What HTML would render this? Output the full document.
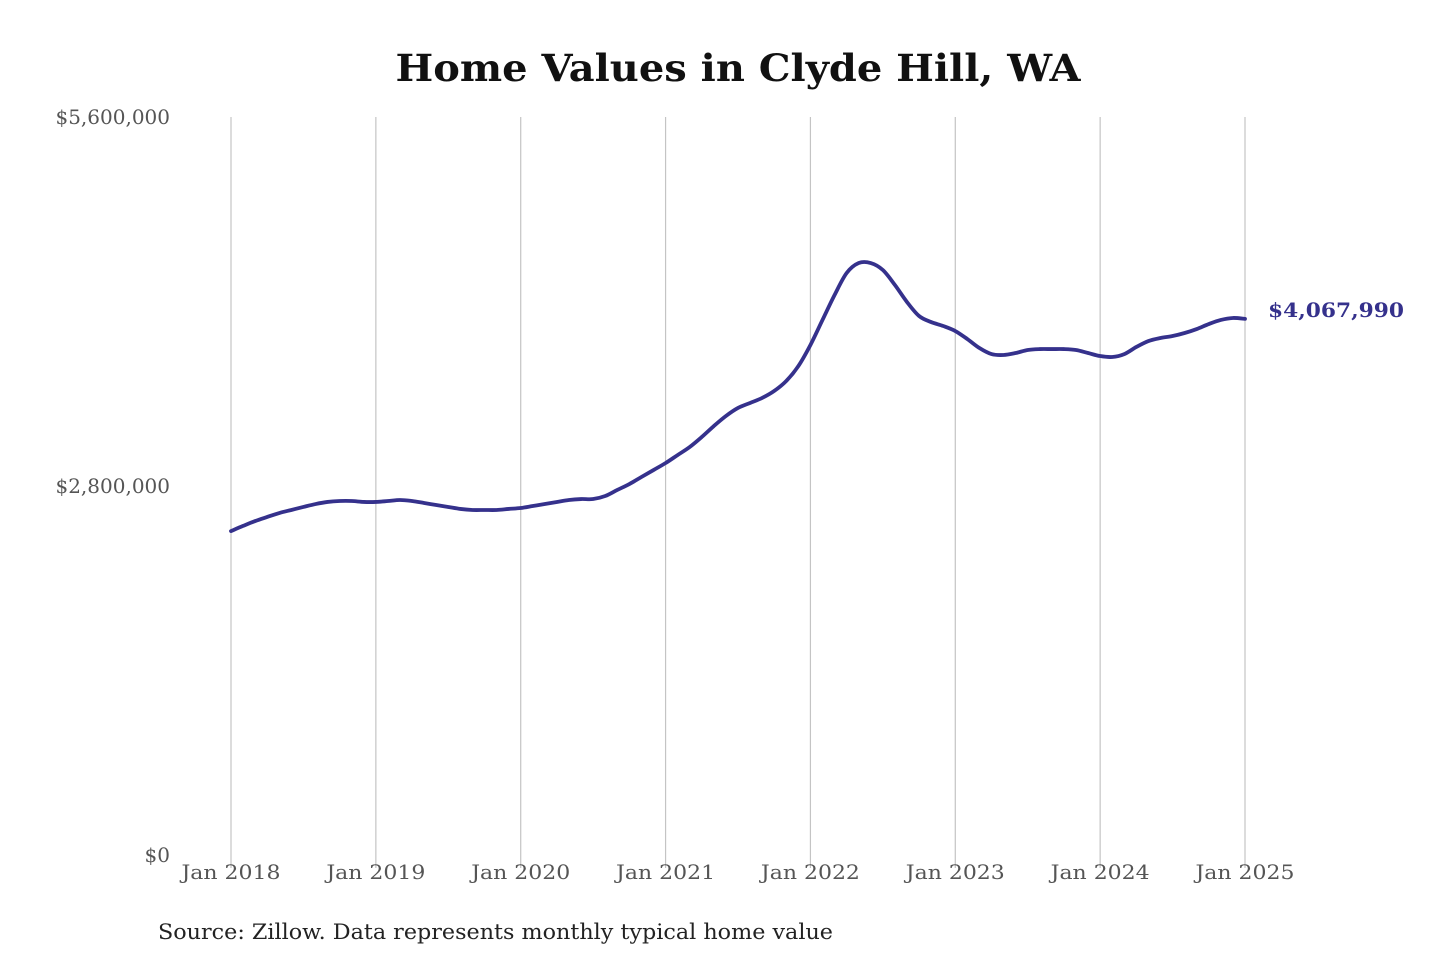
<!DOCTYPE html>
<html><head><meta charset="utf-8">
<style>
html,body{margin:0;padding:0;background:#fff;}
svg{display:block;font-family:"DejaVu Serif","Liberation Serif",serif;}
</style></head>
<body>
<svg id="chart" width="1440" height="960" viewBox="0 0 1440 960">
<text x="738" y="81" text-anchor="middle" font-size="37" font-weight="bold" fill="#111" textLength="685" lengthAdjust="spacingAndGlyphs">Home Values in Clyde Hill, WA</text>
<g id="grid"></g>
<g id="yaxis"></g>
<g id="xaxis"></g>
<g id="series"></g>
<text x="158" y="939" font-size="21" fill="#222" textLength="675" lengthAdjust="spacingAndGlyphs">Source: Zillow. Data represents monthly typical home value</text>
</svg>
<script>
const yTicks = [0, 2800000, 5600000];
const yTickLabels = ["$0", "$2,800,000", "$5,600,000"];
const xTickYears = [2018, 2019, 2020, 2021, 2022, 2023, 2024, 2025];
const xTickLabels = ["Jan 2018","Jan 2019","Jan 2020","Jan 2021","Jan 2022","Jan 2023","Jan 2024","Jan 2025"];
const startYear = 2018;
// monthly values Jan 2018 .. Jan 2025 (millions)
const values = [2.458,2.497,2.534,2.565,2.595,2.618,2.641,2.663,2.679,2.686,2.686,2.679,
2.679,2.686,2.694,2.686,2.671,2.656,2.641,2.626,2.618,2.618,2.618,2.626,
2.633,2.648,2.663,2.679,2.694,2.701,2.701,2.724,2.770,2.815,2.868,2.921,
2.974,3.035,3.096,3.172,3.255,3.331,3.392,3.430,3.468,3.521,3.597,3.710,
3.870,4.060,4.249,4.416,4.492,4.492,4.439,4.325,4.196,4.090,4.044,4.014,
3.976,3.915,3.847,3.801,3.794,3.809,3.832,3.839,3.839,3.839,3.832,3.809,
3.786,3.779,3.801,3.855,3.900,3.923,3.938,3.961,3.991,4.029,4.060,4.075,
4.06799];
const lastLabel = "$4,067,990";

const NS="http://www.w3.org/2000/svg";
const x0=231, x1=1245, y0=855, y1=117;
const xScale = m => x0 + (x1-x0)*m/84;
const yScale = v => y0 - (y0-y1)*v/5600000;
function mk(tag, attrs, parent){const e=document.createElementNS(NS,tag);for(const k in attrs)e.setAttribute(k,attrs[k]);parent.appendChild(e);return e;}

const grid=document.getElementById('grid'), ya=document.getElementById('yaxis'), xa=document.getElementById('xaxis'), se=document.getElementById('series');
yTicks.forEach((t,i)=>{
  const tx=mk('text',{x:170,y:yScale(t)+7,'text-anchor':'end','font-size':20,fill:'#555'},ya);
  tx.textContent=yTickLabels[i];
  
  
});
xTickYears.forEach((yr,i)=>{
  const x=xScale((yr-startYear)*12);
  const l=mk('line',{x1:x,x2:x,y1:y1,y2:868,stroke:'#c4c4c4','stroke-width':1.2},grid);
  
  
  const tx=mk('text',{x:x,y:879,'text-anchor':'middle','font-size':20,fill:'#555',textLength:99,lengthAdjust:'spacingAndGlyphs'},xa);
  tx.textContent=xTickLabels[i];
  
  
});
const pts=values.map((v,i)=>[xScale(i),yScale(v*1e6)]);
let d='M'+pts[0][0]+','+pts[0][1];
for(let i=0;i<pts.length-1;i++){
  const p0=pts[Math.max(0,i-1)],p1=pts[i],p2=pts[i+1],p3=pts[Math.min(pts.length-1,i+2)];
  const c1=[p1[0]+(p2[0]-p0[0])/6,p1[1]+(p2[1]-p0[1])/6];
  const c2=[p2[0]-(p3[0]-p1[0])/6,p2[1]-(p3[1]-p1[1])/6];
  d+=` C${c1[0]},${c1[1]} ${c2[0]},${c2[1]} ${p2[0]},${p2[1]}`;
}
const path=mk('path',{d:d,fill:'none',stroke:'#35318c','stroke-width':3.8,'stroke-linejoin':'round','stroke-linecap':'round'},se);


const last=pts[pts.length-1];
const lab=mk('text',{x:last[0]+23,y:last[1]-2,'font-size':20,'font-weight':'bold',fill:'#35318c',textLength:136,lengthAdjust:'spacingAndGlyphs'},se);
lab.textContent=lastLabel;


</script>
</body></html>
